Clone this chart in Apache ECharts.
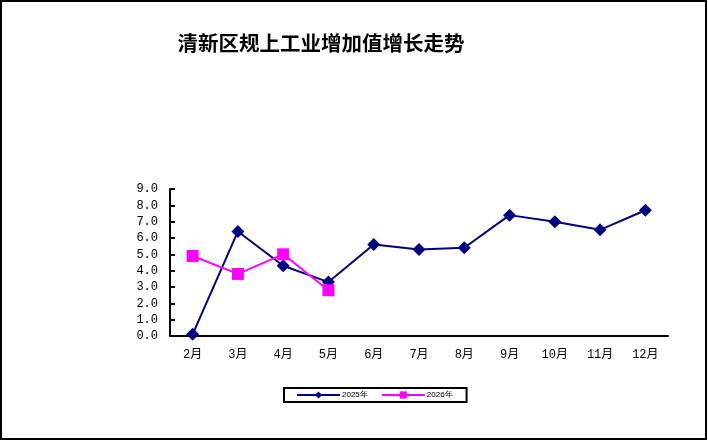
<!DOCTYPE html>
<html>
<head>
<meta charset="utf-8">
<script src="https://cdn.jsdelivr.net/npm/echarts@6/dist/echarts.min.js"></script>
<style>
  html, body { margin: 0; padding: 0; background: #fff; }
  #main { width: 708px; height: 441px; }
</style>
</head>
<body>
<div id="main"></div>
<script>
// data
var months = ['2月', '3月', '4月', '5月', '6月', '7月', '8月', '9月', '10月', '11月', '12月'];
var values2025 = [0.1, 6.4, 4.3, 3.3, 5.6, 5.3, 5.4, 7.4, 7.0, 6.5, 7.7];
var values2026 = [4.9, 3.8, 5.0, 2.8];
var seriesNames = ['2025年', '2026年'];

var chart = echarts.init(document.getElementById('main'));

var labelFont = "'Liberation Mono', 'Noto Sans CJK SC', monospace";

var option = {
  animation: false,
  backgroundColor: '#fff',
  title: {
    text: '清新区规上工业增加值增长走势',
    left: 316,
    textAlign: 'center',
    top: 28,
    textStyle: {
      fontFamily: "'Noto Sans CJK SC'",
      fontSize: 20.5,
      fontWeight: 'bold',
      color: '#000'
    }
  },
  graphic: [{
    type: 'rect',
    shape: { x: 1, y: 1, width: 705, height: 438 },
    style: { fill: 'none', stroke: '#000', lineWidth: 2 },
    silent: true
  }],
  legend: {
    left: 284,
    top: 388,
    padding: [3, 14, 3, 12],
    itemGap: 13,
    itemWidth: 43,
    itemHeight: 9,
    borderColor: '#000',
    borderWidth: 2,
    data: seriesNames,
    textStyle: { fontSize: 8, color: '#000', padding: [0, 0, 0, -3] }
  },
  grid: {
    left: 170,
    right: 40,
    top: 189,
    bottom: 105
  },
  xAxis: {
    type: 'category',
    data: months,
    boundaryGap: true,
    axisLine: { lineStyle: { color: '#000', width: 2 } },
    axisTick: { inside: true, length: 5, lineStyle: { color: '#000', width: 2 } },
    axisLabel: { color: '#000', fontSize: 12, margin: 13, fontFamily: labelFont }
  },
  yAxis: {
    type: 'value',
    min: 0,
    max: 9,
    interval: 1,
    axisLine: { show: true, lineStyle: { color: '#000', width: 2 } },
    axisTick: { show: true, inside: true, length: 5, lineStyle: { color: '#000', width: 2 } },
    splitLine: { show: false },
    axisLabel: {
      color: '#000',
      fontSize: 12,
      margin: 12,
      fontFamily: labelFont,
      formatter: function (v) { return v.toFixed(1); }
    }
  },
  series: [
    {
      name: seriesNames[0],
      type: 'line',
      data: values2025,
      symbol: 'diamond',
      symbolSize: 13,
      color: '#000080',
      lineStyle: { color: '#000080', width: 2 },
      itemStyle: { color: '#000080' },
      z: 2
    },
    {
      name: seriesNames[1],
      type: 'line',
      data: values2026,
      symbol: 'rect',
      symbolSize: 12,
      color: '#ff00ff',
      lineStyle: { color: '#ff00ff', width: 2 },
      itemStyle: { color: '#ff00ff' },
      z: 3
    }
  ]
};

chart.setOption(option);
</script>
</body>
</html>
